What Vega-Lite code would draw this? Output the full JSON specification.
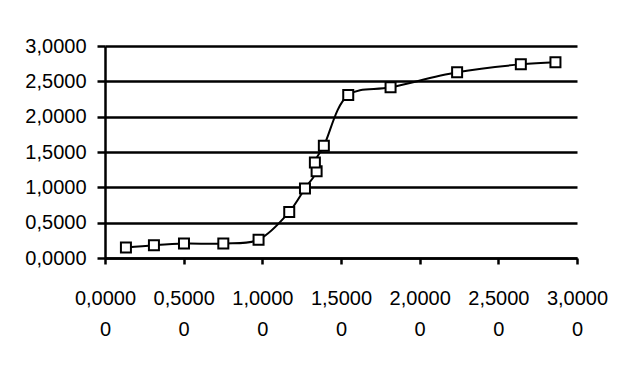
{
  "$schema": "https://vega.github.io/schema/vega-lite/v6.json",
  "autosize": "none",
  "width": 472,
  "height": 212,
  "padding": {"left": 105, "top": 46, "right": 63, "bottom": 122},
  "background": "white",
  "config": {
    "view": {"stroke": null},
    "font": "Liberation Sans"
  },
  "data": {
    "values": [
      {"x": 0.133, "y": 0.147},
      {"x": 0.311, "y": 0.180},
      {"x": 0.502, "y": 0.204},
      {"x": 0.752, "y": 0.204},
      {"x": 0.976, "y": 0.260},
      {"x": 1.171, "y": 0.652},
      {"x": 1.271, "y": 0.983},
      {"x": 1.345, "y": 1.229},
      {"x": 1.334, "y": 1.352},
      {"x": 1.391, "y": 1.587},
      {"x": 1.546, "y": 2.305},
      {"x": 1.815, "y": 2.415},
      {"x": 2.238, "y": 2.627},
      {"x": 2.643, "y": 2.740},
      {"x": 2.863, "y": 2.769}
    ]
  },
  "encoding": {
    "x": {
      "field": "x",
      "type": "quantitative",
      "scale": {"domain": [0, 3], "nice": false, "zero": false},
      "axis": {
        "values": [0, 0.5, 1, 1.5, 2, 2.5, 3],
        "title": null,
        "grid": false,
        "domainColor": "black",
        "domainWidth": 2.5,
        "tickColor": "black",
        "tickWidth": 2.5,
        "tickSize": 6,
        "labelPadding": 24,
        "labelFont": "Liberation Sans",
        "labelFontSize": 20,
        "labelColor": "black",
        "labelLineHeight": 31,
        "labelFlush": false,
        "labelOverlap": false,
        "labelExpr": "[replace(format(datum.value, '.4f'), '.', ','), '0']"
      }
    },
    "y": {
      "field": "y",
      "type": "quantitative",
      "scale": {"domain": [0, 3], "nice": false, "zero": false},
      "axis": {
        "values": [0, 0.5, 1, 1.5, 2, 2.5, 3],
        "title": null,
        "grid": true,
        "gridColor": "black",
        "gridWidth": 2.5,
        "gridOpacity": 1,
        "domainColor": "black",
        "domainWidth": 2.5,
        "tickColor": "black",
        "tickWidth": 2.5,
        "tickSize": 8,
        "labelPadding": 11,
        "labelFont": "Liberation Sans",
        "labelFontSize": 20,
        "labelColor": "black",
        "labelFlush": false,
        "labelOverlap": false,
        "labelExpr": "replace(format(datum.value, '.4f'), '.', ',')"
      }
    }
  },
  "layer": [
    {
      "mark": {"type": "line", "interpolate": "catmull-rom", "color": "black", "strokeWidth": 2},
      "encoding": {"order": {"field": "y", "type": "quantitative"}}
    },
    {
      "mark": {"type": "point", "shape": "square", "size": 100, "filled": true, "fill": "white", "stroke": "black", "strokeWidth": 2, "opacity": 1}
    }
  ]
}
